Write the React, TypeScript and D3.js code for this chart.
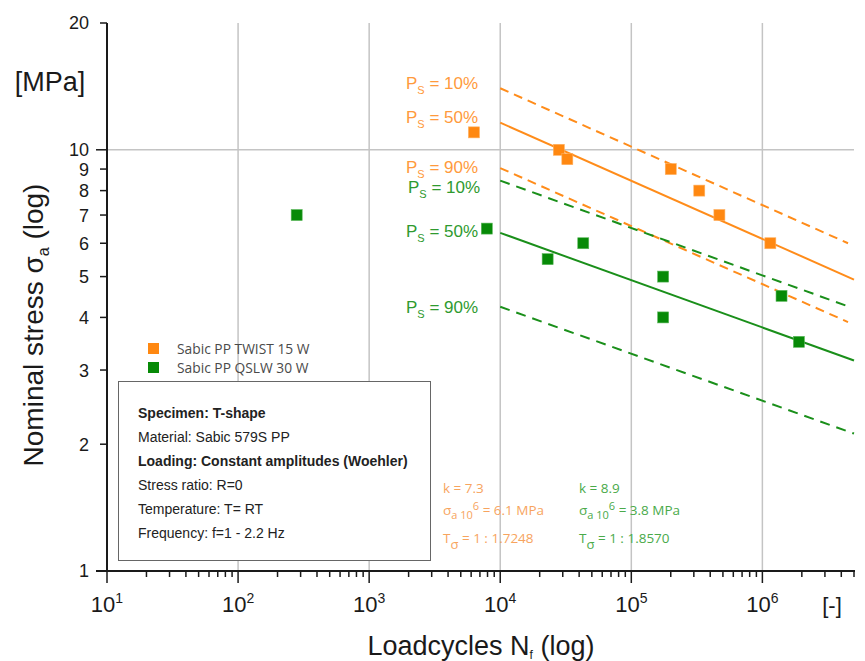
import React from "react";
import * as d3 from "d3";

// ---- data ----
const twistN = [6300, 28000, 32500, 200000, 330000, 470000, 1150000];
const twistS = [11.0, 10.0, 9.5, 9.0, 8.0, 7.0, 6.0];
const qslwN = [280, 7900, 23000, 43000, 175000, 175000, 1400000, 1900000];
const qslwS = [7.0, 6.5, 5.5, 6.0, 5.0, 4.0, 4.5, 3.5];

// Woehler lines (start / end points)
const orangeP10 = [[1e4, 14.0], [4.5e6, 6.0]];
const orangeP50 = [[1e4, 11.6], [5e6, 4.92]];
const orangeP90 = [[1e4, 9.05], [4.5e6, 3.9]];
const greenP10 = [[1e4, 8.45], [4.5e6, 4.25]];
const greenP50 = [[1e4, 6.35], [5e6, 3.16]];
const greenP90 = [[1e4, 4.24], [5e6, 2.12]];

const yTickValues = [1, 2, 3, 4, 5, 6, 7, 8, 9, 10, 20];
const xDecades = [1, 2, 3, 4, 5, 6];
const seriesNames = ["Sabic PP TWIST 15 W", "Sabic PP QSLW 30 W"];
const infoLines = [
  { t: "Specimen: T-shape", b: true },
  { t: "Material: Sabic 579S PP", b: false },
  { t: "Loading: Constant amplitudes (Woehler)", b: true },
  { t: "Stress ratio: R=0", b: false },
  { t: "Temperature: T= RT", b: false },
  { t: "Frequency: f=1 - 2.2 Hz", b: false },
];
const psLabels = ["10%", "50%", "90%"];

const ORANGE = "#ff8811";
const ORANGE_LINE = "#ff8c1a";
const ORANGE_TXT = "#ff9a3c";
const ORANGE_ANN = "#f7a45e";
const GREEN = "#078a07";
const GREEN_LINE = "#1a8f1a";
const GREEN_TXT = "#2f9a2f";
const GREEN_ANN = "#4aaa4a";

const AX = "Liberation Sans, Arial, sans-serif";
const UI = "Open Sans, Noto Sans, sans-serif";

export default function App() {
  const x = d3.scaleLog().domain([10, 5e6]).range([107, 854]);
  const y = d3.scaleLog().domain([1, 20]).range([571, 23]);
  const line = d3
    .line<number[]>()
    .x((d) => x(d[0]))
    .y((d) => y(d[1]));

  const minorX: number[] = [];
  for (let e = 1; e <= 6; e++) {
    for (let m = 2; m <= 9; m++) {
      const v = m * Math.pow(10, e);
      if (v <= 5e6) minorX.push(v);
    }
  }

  const sq = 11;
  const orangeLines = [orangeP10, orangeP50, orangeP90];
  const greenLines = [greenP10, greenP50, greenP90];
  const psOrangeY = [89, 123, 173];
  const psGreenY = [193, 237, 313];

  return (
    <svg width={865} height={661} style={{ display: "block", margin: "-8px 0 0 -8px" }}>
      <rect x={0} y={0} width={865} height={661} fill="#fff" />
      {/* grid */}
      {[100, 1000, 1e4, 1e5, 1e6].map((v) => (
        <line key={"gx" + v} x1={x(v)} x2={x(v)} y1={y(20)} y2={y(1)} stroke="#c4c4c4" strokeWidth={1.5} />
      ))}
      <line x1={x(10)} x2={x(5e6)} y1={y(10)} y2={y(10)} stroke="#c4c4c4" strokeWidth={1.5} />

      {/* info box */}
      <rect x={118.5} y={381.5} width={312} height={179} fill="#fff" stroke="#666" strokeWidth={1} />
      {infoLines.map((l, i) => (
        <text key={"in" + i} x={138} y={418 + i * 24} fontFamily={AX} fontSize={14} fontWeight={l.b ? "bold" : "normal"} fill="#222">
          {l.t}
        </text>
      ))}

      {/* woehler lines */}
      {orangeLines.map((d, i) => (
        <path key={"ol" + i} d={line(d as any) || ""} fill="none" stroke={ORANGE_LINE} strokeWidth={2} strokeDasharray={i === 1 ? undefined : "9,6"} />
      ))}
      {greenLines.map((d, i) => (
        <path key={"gl" + i} d={line(d as any) || ""} fill="none" stroke={GREEN_LINE} strokeWidth={2} strokeDasharray={i === 1 ? undefined : "10,7"} />
      ))}

      {/* points */}
      {twistN.map((n, i) => (
        <rect key={"tp" + i} x={x(n) - sq / 2} y={y(twistS[i]) - sq / 2} width={sq} height={sq} fill={ORANGE} stroke="#ffb060" strokeWidth={0.6} />
      ))}
      {qslwN.map((n, i) => (
        <rect key={"qp" + i} x={x(n) - sq / 2} y={y(qslwS[i]) - sq / 2} width={sq} height={sq} fill={GREEN} stroke="#5cb85c" strokeWidth={0.6} />
      ))}

      {/* P_S labels */}
      {psLabels.map((p, i) => (
        <text key={"po" + i} x={406} y={psOrangeY[i]} fontFamily={AX} fontSize={17} fill={ORANGE_TXT}>
          P<tspan fontSize={11} dy={5}>S</tspan>
          <tspan dy={-5}> = {p}</tspan>
        </text>
      ))}
      {psLabels.map((p, i) => (
        <text key={"pg" + i} x={i === 0 ? 408 : 406} y={psGreenY[i]} fontFamily={AX} fontSize={17} fill={GREEN_TXT}>
          P<tspan fontSize={11} dy={5}>S</tspan>
          <tspan dy={-5}> = {p}</tspan>
        </text>
      ))}

      {/* legend */}
      {seriesNames.map((s, i) => (
        <g key={"lg" + i}>
          <rect x={148} y={343 + i * 19} width={11} height={11} fill={i === 0 ? ORANGE : GREEN} />
          <text x={177} y={354 + i * 19} fontFamily={UI} fontSize={13.8} fill="#4a4a4a">
            {s}
          </text>
        </g>
      ))}

      {/* annotations */}
      <g fontFamily={UI} fontSize={13.5} fill={ORANGE_ANN}>
        <text x={443} y={493}>k = 7.3</text>
        <text x={443} y={515}>
          σ<tspan fontSize={11} dy={4}>a 10</tspan>
          <tspan fontSize={11} dy={-9}>6</tspan>
          <tspan dy={5}> = 6.1 MPa</tspan>
        </text>
        <text x={443} y={543}>
          T<tspan fontSize={13} dy={6}>σ</tspan>
          <tspan dy={-6}> = 1 : 1.7248</tspan>
        </text>
      </g>
      <g fontFamily={UI} fontSize={13.5} fill={GREEN_ANN}>
        <text x={579} y={493}>k = 8.9</text>
        <text x={579} y={515}>
          σ<tspan fontSize={11} dy={4}>a 10</tspan>
          <tspan fontSize={11} dy={-9}>6</tspan>
          <tspan dy={5}> = 3.8 MPa</tspan>
        </text>
        <text x={579} y={543}>
          T<tspan fontSize={13} dy={6}>σ</tspan>
          <tspan dy={-6}> = 1 : 1.8570</tspan>
        </text>
      </g>

      {/* axes */}
      <line x1={107} x2={107} y1={y(20)} y2={y(1) + 1} stroke="#1a1a1a" strokeWidth={2} />
      <line x1={96} x2={x(5e6) + 1} y1={y(1)} y2={y(1)} stroke="#1a1a1a" strokeWidth={2} />
      {yTickValues.map((v) => {
        const major = v === 1 || v === 10;
        return (
          <g key={"yt" + v}>
            <line x1={major ? 96 : 100} x2={107} y1={y(v)} y2={y(v)} stroke="#1a1a1a" strokeWidth={1.5} />
            <text x={89} y={y(v)} dy="0.36em" textAnchor="end" fontFamily={AX} fontSize={18} fill="#1a1a1a">
              {v}
            </text>
          </g>
        );
      })}
      {xDecades.map((e) => (
        <g key={"xd" + e}>
          <line x1={x(Math.pow(10, e))} x2={x(Math.pow(10, e))} y1={y(1)} y2={y(1) + 12} stroke="#1a1a1a" strokeWidth={1.5} />
          <text x={x(Math.pow(10, e))} y={612} textAnchor="middle" fontFamily={AX} fontSize={22} fill="#1a1a1a">
            10<tspan fontSize={14} dy={-9}>{e}</tspan>
          </text>
        </g>
      ))}
      {minorX.map((v) => (
        <line key={"mx" + v} x1={x(v)} x2={x(v)} y1={y(1)} y2={y(1) + 6} stroke="#1a1a1a" strokeWidth={1.5} />
      ))}
      <text x={832} y={613} textAnchor="middle" fontFamily={AX} fontSize={22} fill="#1a1a1a">[-]</text>
      <text x={50} y={91} textAnchor="middle" fontFamily={AX} fontSize={27} fill="#1a1a1a">[MPa]</text>

      <text x={481} y={655} textAnchor="middle" fontFamily={AX} fontSize={27} fill="#1a1a1a">
        Loadcycles N<tspan fontSize={12} dy={4}>f</tspan>
        <tspan dy={-4}> (log)</tspan>
      </text>
      <text transform="translate(43,325) rotate(-90)" textAnchor="middle" fontFamily={AX} fontSize={28} fill="#1a1a1a">
        Nominal stress σ<tspan fontSize={16} dy={6}>a</tspan>
        <tspan dy={-6}> (log)</tspan>
      </text>
    </svg>
  );
}
